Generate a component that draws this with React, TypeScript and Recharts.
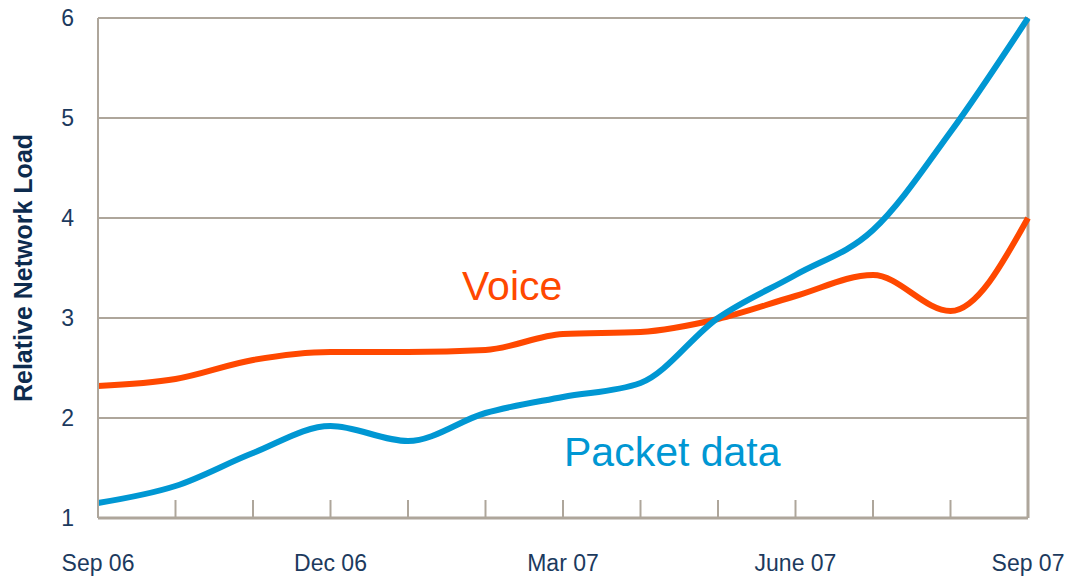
import { CartesianGrid, Line, LineChart, ReferenceLine, XAxis, YAxis } from "recharts";

const months = [
  "Sep 06", "Oct 06", "Nov 06", "Dec 06", "Jan 07", "Feb 07", "Mar 07",
  "Apr 07", "May 07", "June 07", "Jul 07", "Aug 07", "Sep 07",
];
const voice = [2.32, 2.39, 2.58, 2.66, 2.66, 2.68, 2.84, 2.86, 2.99, 3.22, 3.43, 3.07, 4.0];
const packetData = [1.15, 1.32, 1.65, 1.92, 1.77, 2.05, 2.21, 2.35, 3.0, 3.43, 3.88, 4.86, 6.0];
const labeledMonths = ["Sep 06", "Dec 06", "Mar 07", "June 07", "Sep 07"];
const yTicks = [1, 2, 3, 4, 5, 6];

const chartData = months.map((month, i) => ({
  month,
  voice: voice[i],
  packet: packetData[i],
}));

const GRID = "#aea69b";
const TEXT = "#1c3a5e";
const ORANGE = "#ff4800";
const BLUE = "#0097d3";

function MonthTick(props: any) {
  const { x, y, payload, index } = props;
  const showLabel = labeledMonths.includes(payload.value);
  const isEdge = index === 0 || index === months.length - 1;
  return (
    <g>
      {!isEdge && <line x1={x} x2={x} y1={y - 18} y2={y} stroke={GRID} strokeWidth={2}/>}
      {showLabel && (
        <text x={x} y={y + 53} textAnchor="middle" fill={TEXT} fontSize={23} fontFamily="Liberation Sans, Arial, sans-serif">
          {payload.value}
        </text>
      )}
    </g>
  );
}

export default function App() {
  return (
    <div style={{position: "absolute", left: 0, top: 0, width: 1083, height: 579, background: "#fff"}}>
      <LineChart width={1083} height={579} data={chartData} margin={{top: 18, right: 55, bottom: 0, left: 0}}>
        <CartesianGrid vertical={false} stroke={GRID} strokeWidth={2}/>
        <XAxis
          dataKey="month"
          interval={0}
          height={61}
          tickSize={0}
          tickMargin={0}
          tickLine={false}
          axisLine={{stroke: GRID, strokeWidth: 3}}
          tick={<MonthTick/>}
        />
        <YAxis
          domain={[1, 6]}
          ticks={yTicks}
          width={98}
          tickSize={0}
          tickMargin={24}
          tickLine={false}
          axisLine={{stroke: GRID, strokeWidth: 2}}
          tick={{fill: TEXT, fontSize: 23, fontFamily: "Liberation Sans, Arial, sans-serif"}}
          label={{
            value: "Relative Network Load",
            angle: -90,
            position: "insideLeft",
            offset: 23,
            style: {fill: "#0d2b4e", fontSize: 25, fontWeight: "bold", fontFamily: "Liberation Sans, Arial, sans-serif", textAnchor: "middle"},
          }}
        />
        <ReferenceLine x="Sep 07" stroke={GRID} strokeWidth={3}/>
        <Line type="monotone" dataKey="voice" stroke={ORANGE} strokeWidth={6} dot={false} isAnimationActive={false}/>
        <Line type="monotone" dataKey="packet" stroke={BLUE} strokeWidth={6} dot={false} isAnimationActive={false}/>
      </LineChart>
      <div style={{position: "absolute", left: 462, top: 262, color: ORANGE, fontSize: 41, fontFamily: "Liberation Sans, Arial, sans-serif", lineHeight: "48px"}}>
        Voice
      </div>
      <div style={{position: "absolute", left: 564, top: 428, color: BLUE, fontSize: 41, fontFamily: "Liberation Sans, Arial, sans-serif", lineHeight: "48px"}}>
        Packet data
      </div>
    </div>
  );
}
